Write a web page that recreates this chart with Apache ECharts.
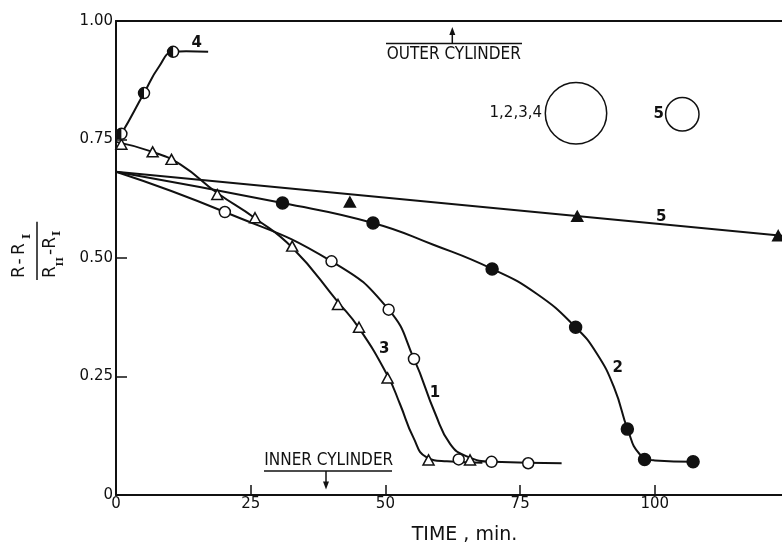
<!DOCTYPE html>
<html>
<head>
<meta charset="utf-8">
<script src="https://cdn.jsdelivr.net/npm/echarts@6/dist/echarts.min.js"></script>
<style>
  html, body { margin: 0; padding: 0; background: #fff; }
  #chart { width: 782px; height: 548px; }
</style>
</head>
<body>
<div id="chart"></div>
<script>
// Axis ticks
const xTicks = [0, 25, 50, 75, 100];
const xTickLabels = ['0', '25', '50', '75', '100'];
const yTicks = [0, 0.25, 0.5, 0.75, 1];
const yTickLabels = ['0', '0.25', '0.50', '0.75', '1.00'];
const xMax = 123.6;

// Measured points (time in min, dimensionless radius)
const pts1 = [[20.2, 0.597], [40, 0.493], [50.6, 0.391], [55.3, 0.287], [63.6, 0.075], [69.7, 0.070], [76.5, 0.067]];
const pts2 = [[30.9, 0.616], [47.7, 0.574], [69.8, 0.477], [85.3, 0.354], [94.9, 0.139], [98.1, 0.075], [107.1, 0.070]];
const pts3 = [[1, 0.740], [6.8, 0.724], [10.3, 0.708], [18.8, 0.634], [25.8, 0.585], [32.7, 0.525], [41.2, 0.402], [45.1, 0.354], [50.4, 0.247], [58, 0.074], [65.7, 0.074]];
const pts4 = [[1, 0.762], [5.2, 0.848], [10.6, 0.935]];
const pts5 = [[43.4, 0.618], [85.6, 0.588], [122.9, 0.547]];

// Hand-faired curves through the points
const fit1 = [[0, 0.682], [20.2, 0.597], [40, 0.493], [50.6, 0.391], [55.3, 0.287], [59.2, 0.173], [62, 0.108], [65, 0.082], [70, 0.070], [82.7, 0.067]];
const fit2 = [[0, 0.682], [30.9, 0.616], [47.7, 0.574], [58.9, 0.528], [69.8, 0.477], [78, 0.425], [85.3, 0.354], [89.2, 0.299], [92.5, 0.225], [95, 0.137], [97.2, 0.086], [100, 0.073], [107.1, 0.070]];
const fit3 = [[0, 0.745], [6.8, 0.724], [12, 0.697], [18.8, 0.637], [25.8, 0.584], [32.7, 0.522], [41.2, 0.407], [45.1, 0.352], [50.4, 0.252], [52.7, 0.192], [55.2, 0.121], [57.6, 0.080], [61.4, 0.071], [68, 0.068]];
const fit4 = [[0, 0.750], [1, 0.762], [5.2, 0.848], [8, 0.904], [10.6, 0.935], [13, 0.936], [17.1, 0.935]];
const fit5 = [[0, 0.682], [123.6, 0.547]];

// Curve numbers
const curveNames = ['1', '2', '3', '4', '5'];
const curveLabelX = [59.2, 93.1, 49.8, 15.0, 101.2];
const curveLabelY = [0.215, 0.268, 0.308, 0.954, 0.586];

const INK = '#111';
const FONT = 'DejaVu Sans';

function fitLine(data) {
  return {
    type: 'line', data: data, smooth: 0.5, showSymbol: false, z: 2,
    lineStyle: { color: INK, width: 2 }, silent: true
  };
}
function marks(data, symbol, size, fill) {
  return {
    type: 'scatter', data: data, symbol: symbol, symbolSize: size, z: 4,
    itemStyle: { color: fill, borderColor: INK, borderWidth: 1.5, opacity: 1 }, silent: true
  };
}

const labelData = curveNames.map((n, i) => [curveLabelX[i], curveLabelY[i], n]);

const chart = echarts.init(document.getElementById('chart'), null, { renderer: 'canvas' });

const option = {
  animation: false,
  backgroundColor: '#fff',
  grid: { left: 116, right: 0, top: 21, bottom: 53 },
  xAxis: [
    {
      type: 'value', min: 0, max: xMax, interval: 25,
      axisLine: { show: true, lineStyle: { color: INK, width: 2 } },
      axisTick: { show: true, inside: true, length: 10, customValues: xTicks, lineStyle: { color: INK, width: 1.5 } },
      axisLabel: {
        show: true, customValues: xTicks, margin: 2, color: INK, fontFamily: FONT, fontSize: 15,
        formatter: v => { const i = xTicks.indexOf(v); return i >= 0 ? xTickLabels[i] : ''; }
      },
      splitLine: { show: false }
    },
    {
      type: 'value', position: 'top', min: 0, max: xMax,
      axisLine: { show: true, lineStyle: { color: INK, width: 2 } },
      axisTick: { show: false }, axisLabel: { show: false }, splitLine: { show: false }
    }
  ],
  yAxis: {
    type: 'value', min: 0, max: 1, interval: 0.25,
    axisLine: { show: true, lineStyle: { color: INK, width: 2 } },
    axisTick: { show: true, inside: true, length: 11, lineStyle: { color: INK, width: 1.5 } },
    axisLabel: {
      margin: 3, color: INK, fontFamily: FONT, fontSize: 15,
      formatter: v => { const i = yTicks.findIndex(t => Math.abs(t - v) < 1e-9); return i >= 0 ? yTickLabels[i] : ''; }
    },
    splitLine: { show: false }
  },
  series: [
    fitLine(fit1), fitLine(fit2), fitLine(fit3), fitLine(fit4), fitLine(fit5),
    marks(pts1, 'circle', 11, '#fff'),
    marks(pts2, 'circle', 12, INK),
    marks(pts3, 'triangle', [11, 10], '#fff'),
    marks(pts5, 'triangle', [11, 10], INK),
    marks(pts4, 'circle', 11, '#fff'),
    {
      // left half of the curve-4 markers is solid
      type: 'scatter', data: pts4, z: 5, silent: true,
      symbol: 'path://M10,0 A10,10 0 0,0 10,20 Z',
      symbolSize: [5.5, 11], symbolOffset: [-2.75, 0],
      itemStyle: { color: INK, opacity: 1 }
    },
    {
      type: 'scatter', data: labelData, z: 6, silent: true,
      symbol: 'circle', symbolSize: 1,
      itemStyle: { color: 'rgba(0,0,0,0)', opacity: 1 },
      label: {
        show: true, position: 'inside', formatter: p => p.data[2],
        color: INK, opacity: 1, fontFamily: FONT, fontSize: 15, fontWeight: 'bold'
      }
    }
  ],
  graphic: [
    // outer cylinder marker
    { type: 'line', shape: { x1: 386, y1: 43.5, x2: 522, y2: 43.5 }, style: { stroke: INK, lineWidth: 1.5 } },
    { type: 'line', shape: { x1: 452.3, y1: 43.5, x2: 452.3, y2: 32 }, style: { stroke: INK, lineWidth: 1.5 } },
    { type: 'polygon', shape: { points: [[452.3, 27], [449.3, 35], [455.3, 35]] }, style: { fill: INK } },
    { type: 'text', x: 386.7, y: 55, scaleX: 0.9, style: { text: 'OUTER CYLINDER', fontSize: 17, fontFamily: FONT, fill: INK, align: 'left', verticalAlign: 'middle' } },
    // inner cylinder marker
    { type: 'text', x: 264.3, y: 461, scaleX: 0.9, style: { text: 'INNER CYLINDER', fontSize: 17, fontFamily: FONT, fill: INK, align: 'left', verticalAlign: 'middle' } },
    { type: 'line', shape: { x1: 264, y1: 471, x2: 392, y2: 471 }, style: { stroke: INK, lineWidth: 1.5 } },
    { type: 'line', shape: { x1: 326, y1: 471, x2: 326, y2: 483 }, style: { stroke: INK, lineWidth: 1.5 } },
    { type: 'polygon', shape: { points: [[326, 489.5], [323, 481.5], [329, 481.5]] }, style: { fill: INK } },
    // cylinder size sketches
    { type: 'circle', shape: { cx: 576, cy: 113.3, r: 30.7 }, style: { fill: 'none', stroke: INK, lineWidth: 1.5 } },
    { type: 'circle', shape: { cx: 682.3, cy: 114.3, r: 16.7 }, style: { fill: 'none', stroke: INK, lineWidth: 1.5 } },
    { type: 'text', x: 542, y: 113.5, style: { text: '1,2,3,4', fontSize: 15, fontFamily: FONT, fill: INK, align: 'right', verticalAlign: 'middle' } },
    { type: 'text', x: 664, y: 114.5, style: { text: '5', fontSize: 15, fontFamily: FONT, fontWeight: 'bold', fill: INK, align: 'right', verticalAlign: 'middle' } },
    // axis titles
    { type: 'text', x: 411.7, y: 535, style: { text: 'TIME , min.', fontSize: 19, fontFamily: FONT, fill: INK, align: 'left', verticalAlign: 'middle' } },
    {
      type: 'group', x: 37, y: 251, rotation: Math.PI / 2,
      children: [
        { type: 'text', x: -27, y: -17, style: { text: 'R', fontSize: 17, fontFamily: FONT, fill: INK, align: 'left', verticalAlign: 'middle' } },
        { type: 'text', x: -13.5, y: -17, style: { text: '-', fontSize: 17, fontFamily: FONT, fill: INK, align: 'left', verticalAlign: 'middle' } },
        { type: 'text', x: -4, y: -17, style: { text: 'R', fontSize: 17, fontFamily: FONT, fill: INK, align: 'left', verticalAlign: 'middle' } },
        { type: 'text', x: 12, y: -10, style: { text: 'I', fontSize: 11, fontFamily: 'DejaVu Serif', fontWeight: 'bold', fill: INK, align: 'left', verticalAlign: 'middle' } },
        { type: 'line', shape: { x1: -29, y1: 0, x2: 29.3, y2: 0 }, style: { stroke: INK, lineWidth: 1.5 } },
        { type: 'text', x: -27, y: 13.5, style: { text: 'R', fontSize: 17, fontFamily: FONT, fill: INK, align: 'left', verticalAlign: 'middle' } },
        { type: 'text', x: -15.5, y: 23.5, style: { text: 'II', fontSize: 10, fontFamily: 'DejaVu Serif', fontWeight: 'bold', fill: INK, align: 'left', verticalAlign: 'middle' } },
        { type: 'text', x: -4, y: 13.5, style: { text: '-R', fontSize: 17, fontFamily: FONT, fill: INK, align: 'left', verticalAlign: 'middle' } },
        { type: 'text', x: 15, y: 20, style: { text: 'I', fontSize: 11, fontFamily: 'DejaVu Serif', fontWeight: 'bold', fill: INK, align: 'left', verticalAlign: 'middle' } }
      ]
    }
  ]
};

chart.setOption(option);
</script>
</body>
</html>
